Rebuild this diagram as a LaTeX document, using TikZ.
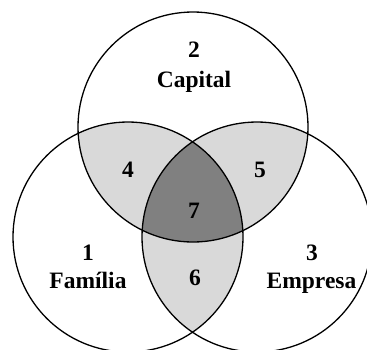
\documentclass[tikz,border=0pt]{standalone}
\usepackage{fontspec}
\setmainfont{Liberation Serif}
\definecolor{lightfill}{RGB}{217,217,217}
\definecolor{darkfill}{RGB}{128,128,128}
\begin{document}
\begin{tikzpicture}[x=1pt,y=-1pt,
  lbl/.style={font=\fontsize{23.5}{26}\selectfont\bfseries, inner sep=0pt, anchor=base},
  ring/.style={draw=black, line width=1.3pt}]
\useasboundingbox (0,0) rectangle (367,349);
\coordinate (T) at (193,127);
\coordinate (L) at (128,237);
\coordinate (R) at (257,237);
% pairwise overlaps
\begin{scope}
  \clip (T) circle (115pt);
  \fill[lightfill] (L) circle (115pt);
  \fill[lightfill] (R) circle (115pt);
\end{scope}
\begin{scope}
  \clip (L) circle (115pt);
  \fill[lightfill] (R) circle (115pt);
\end{scope}
% triple overlap
\begin{scope}
  \clip (T) circle (115pt);
  \clip (L) circle (115pt);
  \fill[darkfill] (R) circle (115pt);
\end{scope}
% outlines
\draw[ring] (T) circle (115pt);
\draw[ring] (L) circle (115pt);
\draw[ring] (R) circle (115pt);
% labels
\node[lbl] (n2) at (194,57) {2};
\node[lbl] (capital) at (194,87) {Capital};
\node[lbl] (n4) at (128,177) {4};
\node[lbl] (n5) at (260,177) {5};
\node[lbl] (n7) at (194,218) {7};
\node[lbl] (n1) at (88,260) {1};
\node[lbl] (familia) at (88,288) {Família};
\node[lbl] (n6) at (195,285) {6};
\node[lbl] (n3) at (312,260) {3};
\node[lbl] (empresa) at (311.5,288) {Empresa};
\end{tikzpicture}
\end{document}
